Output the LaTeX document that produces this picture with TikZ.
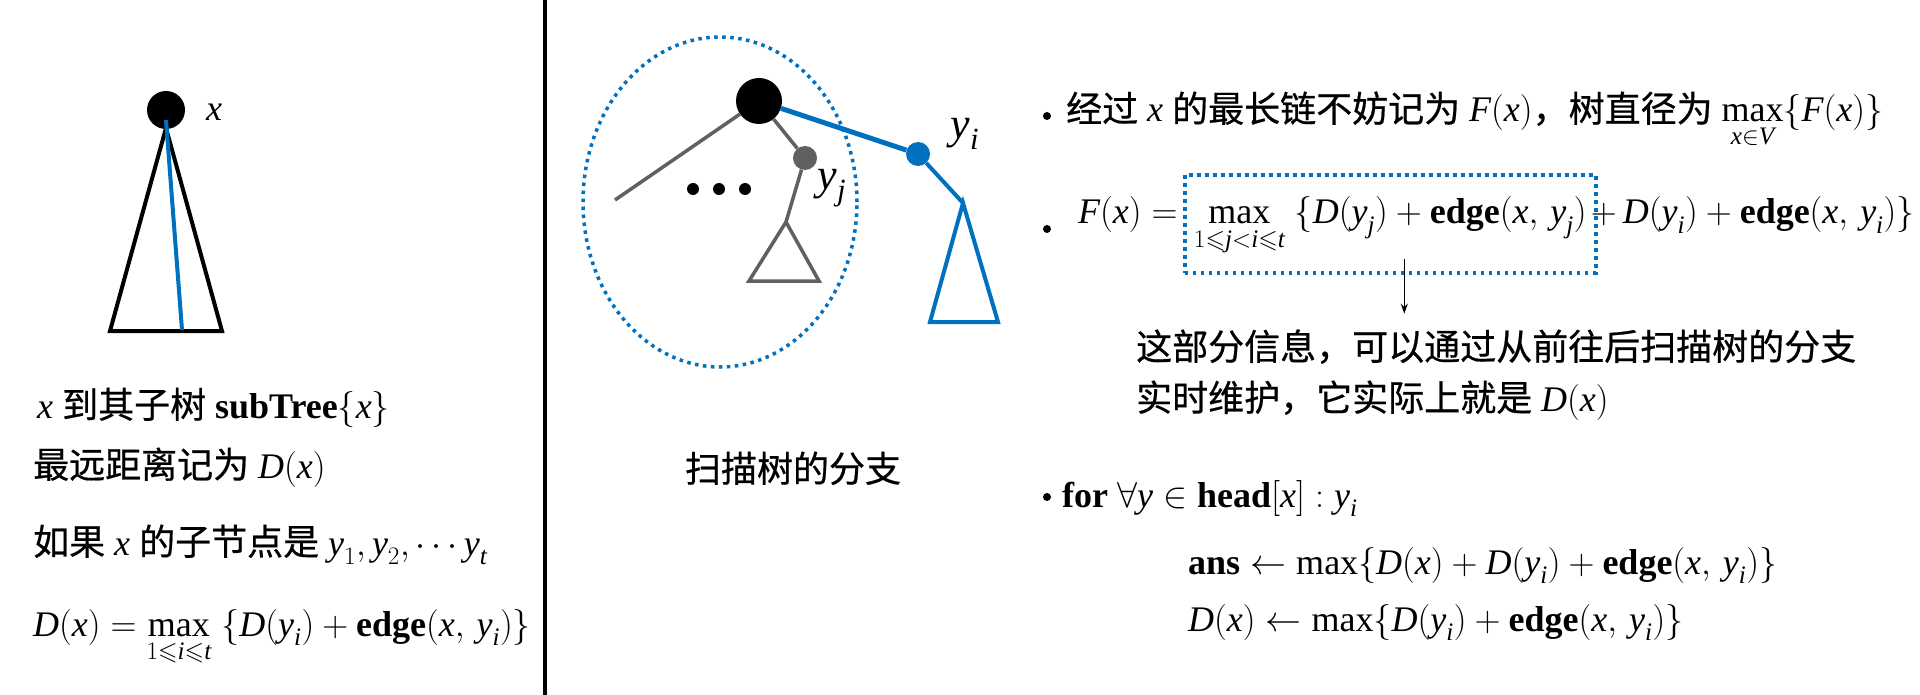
\RequirePackage{fix-cm}
\documentclass[tikz,border=0pt]{standalone}
\usepackage{amsmath,amssymb}
\usepackage{fontspec}
\setmainfont{Liberation Serif}
\DeclareSymbolFont{operators}{TU}{\rmdefault}{m}{n}
\newfontfamily\cjk{Noto Sans CJK SC}[FakeBold=0.6]
\usetikzlibrary{fit,arrows.meta,shapes.geometric}
\definecolor{pblue}{RGB}{0,112,192}
\definecolor{pgray}{RGB}{96,96,96}
\newcommand\iv[1]{\textit{#1}}
\begin{document}
\begin{tikzpicture}[x=1pt,y=-1pt,
  txt/.style={inner sep=0pt, anchor=base west, font={\fontsize{36}{43}\selectfont}},
  lbl/.style={inner sep=0pt, font={\fontsize{44}{50}\selectfont}},
  bulletdot/.style={circle, fill=black, minimum size=8pt, inner sep=0pt},
  dotline/.style={pblue, line width=3.5pt, dash pattern=on 3.5pt off 4.5pt},
  blk/.style={circle, fill=black, inner sep=0pt},
  graybranch/.style={pgray, line width=3.5pt},
  bluebranch/.style={pblue, line width=4pt},
  pointer/.style={-{Stealth[length=10pt,width=7pt]}, line width=1.4pt}]
\useasboundingbox (0,0) rectangle (1920,695);
\fill[white] (0,0) rectangle (1920,695);

% divider
\coordinate (dtop) at (545,0);
\coordinate (dbot) at (545,695);
\draw[line width=4pt] (dtop) -- (dbot);

% ---------- left panel ----------
\coordinate (ta) at (166,128);
\coordinate (tl) at (110,331);
\coordinate (tr) at (222,331);
\draw[line width=4pt, line join=miter] (ta) -- (tl) -- (tr) -- cycle;
\node[blk, minimum size=38pt] (lx) at (166,110) {};
\coordinate (lb) at (182,330);
\draw[bluebranch] ([yshift=-10pt]lx.center) -- (lb);
\node[inner sep=0pt, font={\fontsize{36}{43}\selectfont}] (lxl) at (214,112) {$\iv{x}$};

\node[txt] (L1) at (37,418) {$\iv{x}$ {\cjk 到其子树} \textbf{subTree}$\{\iv{x}\}$};
\node[txt] (L2) at (33,478) {{\cjk 最远距离记为} $\iv{D}(\iv{x})$};
\node[txt] (L3) at (33,555) {{\cjk 如果} $\iv{x}$ {\cjk 的子节点是} $\iv{y}_1, \iv{y}_2, \cdots \iv{y}_{\iv{t}}$};
\node[txt] (L4) at (33,636) {$\iv{D}(\iv{x}) = \max\limits_{1\leqslant \iv{i}\leqslant \iv{t}}\;\{\iv{D}(\iv{y}_{\iv{i}}) + \textbf{edge}(\iv{x},\, \iv{y}_{\iv{i}})\}$};

% ---------- middle panel ----------
\node[draw, dotline, ellipse, minimum width=274pt, minimum height=330pt, inner sep=0pt] (grp) at (720,202) {};
\coordinate (ml) at (615,200);
\node[blk, minimum size=46pt] (mr) at (759,101) {};
\node[circle, fill=pgray, minimum size=24pt, inner sep=0pt] (myj) at (805,158) {};
\node[circle, fill=pblue, minimum size=24pt, inner sep=0pt] (myi) at (918,154) {};
\draw[graybranch] (mr) -- (ml);
\draw[graybranch] (mr) -- (myj);
\coordinate (gja) at (786,222);
\coordinate (gjl) at (749,281);
\coordinate (gjr) at (819,281);
\draw[graybranch] (myj) -- (gja);
\draw[graybranch, line join=miter] (gja) -- (gjl) -- (gjr) -- cycle;
\node[blk, minimum size=12pt] (d1) at (693,189) {};
\node[blk, minimum size=12pt] (d2) at (719,189) {};
\node[blk, minimum size=12pt] (d3) at (745,189) {};
\node[lbl] (yjl) at (832,188) {$\iv{y}_{\iv{j}}$};
\draw[pblue, line width=5pt] (mr) -- (myi);
\node[lbl] (yil) at (965,134) {$\iv{y}_{\iv{i}}$};
\coordinate (bia) at (963,203);
\coordinate (bil) at (930,322);
\coordinate (bir) at (998,322);
\draw[bluebranch] (myi) -- (bia);
\draw[bluebranch, line join=miter] (bia) -- (bil) -- (bir) -- cycle;
\node[txt, anchor=base] (mcap) at (793,482) {\cjk 扫描树的分支};

% ---------- right panel ----------
\node[bulletdot] (b1) at (1047,116) {};
\node[txt] (R1) at (1066,122) {{\cjk 经过} $\iv{x}$ {\cjk 的最长链不妨记为} $\iv{F}(\iv{x})${\cjk ，树直径为} $\max\limits_{\iv{x}\in\iv{V}}\{\iv{F}(\iv{x})\}$};

\node[bulletdot] (b2) at (1047,229) {};
\node[txt] (f1) at (1078,224) {$\iv{F}(\iv{x}) =$};
\node[txt] (f2) at ([xshift=16pt]f1.base east) {$\max\limits_{1\leqslant \iv{j}<\iv{i}\leqslant \iv{t}}\;\{\iv{D}(\iv{y}_{\iv{j}}) + \textbf{edge}(\iv{x},\, \iv{y}_{\iv{j}})$};
\node[txt] (f3) at ([xshift=4pt]f2.base east) {$+\,\iv{D}(\iv{y}_{\iv{i}}) + \textbf{edge}(\iv{x},\, \iv{y}_{\iv{i}})\}$};
\coordinate (bxtop) at (0,175);
\coordinate (bxbot) at (0,273);
\node[draw, dotline, fit=(f2.west|-bxtop) (f2.east|-bxbot), inner xsep=9pt, inner ysep=0pt] (bx) {};
\draw[pointer] ([xshift=14pt,yshift=16pt]bx.south) -- ([xshift=14pt,yshift=-39pt]bx.south);

\node[txt] (I1) at (1136,360) {\cjk 这部分信息，可以通过从前往后扫描树的分支};
\node[txt] (I2) at (1136,411) {{\cjk 实时维护，它实际上就是} $\iv{D}(\iv{x})$};

\node[bulletdot] (b3) at (1047,497) {};
\node[txt] (R3) at (1062,507) {\textbf{for} $\forall\iv{y}\in\textbf{head}[\iv{x}] : \iv{y}_{\iv{i}}$};
\node[txt] (R4) at (1188,574) {$\textbf{ans} \leftarrow \max\{\iv{D}(\iv{x}) + \iv{D}(\iv{y}_{\iv{i}}) + \textbf{edge}(\iv{x},\, \iv{y}_{\iv{i}})\}$};
\node[txt] (R5) at (1188,631) {$\iv{D}(\iv{x}) \leftarrow \max\{\iv{D}(\iv{y}_{\iv{i}}) + \textbf{edge}(\iv{x},\, \iv{y}_{\iv{i}})\}$};
\end{tikzpicture}
\end{document}
